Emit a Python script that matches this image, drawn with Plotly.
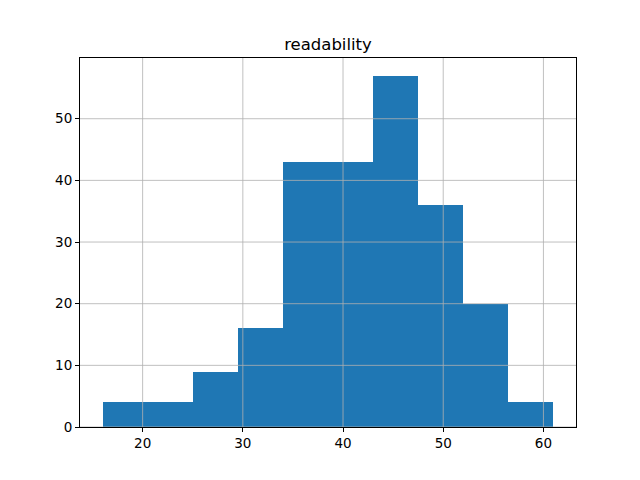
import plotly.graph_objects as go

bin_edges = [16, 20.5, 25, 29.5, 34, 38.5, 43, 47.5, 52, 56.5, 61]
counts = [4, 4, 9, 16, 43, 43, 57, 36, 20, 4]
x_ticks = [20, 30, 40, 50, 60]
y_ticks = [0, 10, 20, 30, 40, 50]

centers = [(a + b) / 2 for a, b in zip(bin_edges[:-1], bin_edges[1:])]
widths = [b - a for a, b in zip(bin_edges[:-1], bin_edges[1:])]

span = bin_edges[-1] - bin_edges[0]
xr = [bin_edges[0] - 0.05 * span, bin_edges[-1] + 0.05 * span]
yr = [0, max(counts) * 1.05]

fig = go.Figure(go.Bar(x=centers, y=counts, width=widths,
                       marker=dict(color="#1f77b4", line=dict(width=0))))

shapes = []
for t in x_ticks:
    shapes.append(dict(type="line", xref="x", yref="paper", x0=t, x1=t, y0=0, y1=1,
                       line=dict(color="#b0b0b0", width=0.8), layer="above"))
for t in y_ticks:
    shapes.append(dict(type="line", xref="paper", yref="y", x0=0, x1=1, y0=t, y1=t,
                       line=dict(color="#b0b0b0", width=0.8), layer="above"))

fig.update_layout(
    width=640, height=480,
    margin=dict(l=80, r=64, t=58, b=53, pad=0),
    paper_bgcolor="white", plot_bgcolor="white",
    font=dict(family="DejaVu Sans", size=13.5, color="black"),
    showlegend=False,
    bargap=0,
    shapes=shapes,
    title=dict(text="readability", x=0.5, xref="paper", xanchor="center",
               y=1 - 44 / 480, yref="container", yanchor="middle",
               font=dict(family="DejaVu Sans", size=16.5, color="black")),
    xaxis=dict(range=xr, tickvals=x_ticks, showgrid=False, zeroline=False,
               showline=True, mirror=True, linecolor="black", linewidth=1,
               ticks="outside", ticklen=4, tickwidth=1, tickcolor="black"),
    yaxis=dict(range=yr, tickvals=y_ticks, showgrid=False, zeroline=False,
               showline=True, mirror=True, linecolor="black", linewidth=1,
               ticks="outside", ticklen=4, tickwidth=1, tickcolor="black"),
)

fig.write_html("out.html")
